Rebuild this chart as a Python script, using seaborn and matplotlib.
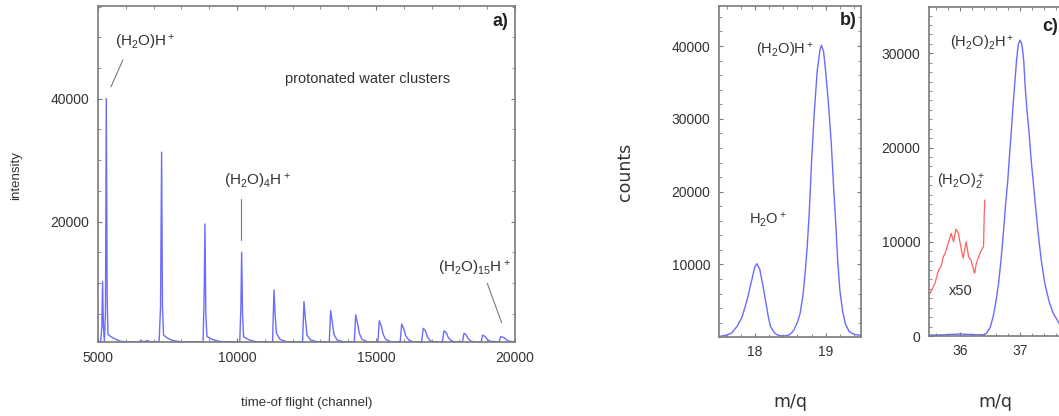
import numpy as np
import pandas as pd
import seaborn as sns
import matplotlib.pyplot as plt
from matplotlib.ticker import MultipleLocator, FixedLocator


# time-of-flight spectrum (panel a)
tof_channel = [5000, 5100, 5140, 5166, 5195, 5230, 5270, 5300, 5330, 5360, 5450, 5600, 5800, 6000,
               6500, 6550, 6600, 6800, 6850, 7200, 7250, 7290, 7320, 7360, 7500, 7700, 8000,
               8780, 8820, 8849, 8880, 8920, 9100, 9400,
               10100, 10140, 10169, 10200, 10240, 10450, 10700,
               11280, 11331, 11370, 11420, 11550, 11800,
               12360, 12410, 12460, 12520, 12650, 12900,
               13320, 13370, 13430, 13490, 13600, 13850,
               14220, 14270, 14330, 14400, 14500, 14700,
               15070, 15120, 15190, 15260, 15350, 15550,
               15870, 15925, 16000, 16070, 16180, 16350,
               16640, 16700, 16780, 16850, 16950, 17100,
               17390, 17446, 17530, 17600, 17700, 17850,
               18110, 18165, 18250, 18320, 18420, 18550,
               18780, 18840, 18930, 19000, 19100,
               19420, 19490, 19600, 19700, 19800, 20000]
tof_intensity = [400, 400, 3000, 10200, 3000, 600, 5000, 40000, 8000, 1600, 1300, 900, 500, 400,
                 400, 700, 400, 600, 400, 400, 6000, 31300, 6000, 1500, 1000, 600, 400,
                 400, 8000, 19600, 5000, 1300, 800, 450,
                 400, 6000, 15000, 5000, 1200, 700, 400,
                 400, 8850, 5000, 1800, 800, 400,
                 400, 6950, 4200, 1500, 700, 400,
                 400, 5500, 3500, 1600, 700, 400,
                 400, 4800, 3600, 1800, 800, 400,
                 400, 3850, 3000, 1600, 800, 400,
                 400, 3300, 2500, 1400, 700, 400,
                 400, 2600, 2200, 1200, 600, 400,
                 400, 2200, 1900, 1100, 600, 400,
                 400, 1800, 1500, 900, 500, 400,
                 400, 1500, 1250, 800, 500,
                 400, 1250, 1100, 700, 500, 400]

# mass spectrum around m/q 18-19 (panel b)
mq_b = [17.50, 17.60, 17.67, 17.75, 17.82, 17.89, 17.95, 18.00, 18.03, 18.07, 18.11, 18.15,
        18.19, 18.22, 18.27, 18.31, 18.36, 18.42, 18.48, 18.52, 18.55, 18.60, 18.64, 18.68,
        18.71, 18.74, 18.77, 18.80, 18.84, 18.88, 18.92, 18.94, 18.97, 19.00, 19.04, 19.08,
        19.11, 19.14, 19.17, 19.20, 19.24, 19.28, 19.33, 19.40, 19.50]
counts_b = [100, 300, 550, 1500, 2800, 5100, 7600, 9700, 10100, 9300, 7300, 5100,
            2800, 1500, 700, 350, 200, 180, 300, 600, 1000, 2000, 3300, 5800,
            8800, 12500, 17500, 24000, 31000, 36500, 39500, 40100, 39300, 36500, 32000, 26500,
            21000, 16000, 10500, 6500, 3500, 1800, 800, 400, 250]

# mass spectrum around m/q 36-37 (panel c)
mq_c = [35.50, 35.70, 35.90, 36.00, 36.10, 36.30, 36.40, 36.44, 36.50, 36.55, 36.60, 36.64,
        36.68, 36.72, 36.76, 36.79, 36.82, 36.85, 36.88, 36.91, 36.94, 36.97, 37.00, 37.03,
        37.06, 37.08, 37.11, 37.15, 37.18, 37.22, 37.26, 37.30, 37.35, 37.41, 37.48, 37.55,
        37.65, 37.75, 37.90, 38.10, 38.50]
counts_c = [100, 120, 180, 220, 180, 120, 150, 300, 900, 2050, 3800, 5600,
            8000, 10900, 14200, 16200, 19000, 21500, 24300, 26800, 29300, 31000, 31400, 30900,
            29200, 26800, 24200, 21500, 18900, 16200, 13500, 10900, 8100, 5600, 3700, 2400,
            1350, 700, 300, 150, 100]

# dimer cation trace, scaled x50 (panel c)
mq_x50 = [35.50, 35.58, 35.64, 35.68, 35.72, 35.75, 35.80, 35.85, 35.89, 35.93, 35.97, 36.01,
          36.05, 36.10, 36.14, 36.18, 36.24, 36.27, 36.33, 36.37, 36.39, 36.40, 36.41]
counts_x50 = [4530, 5590, 7000, 7360, 8420, 8770, 9840, 10900, 10010, 11330, 10900, 9480,
              8250, 10010, 8420, 8070, 6660, 7720, 8780, 9310, 9480, 12660, 14440]

blue = '#6b6bff'
red = '#ff6060'
grey = '#7a7a7a'
txt = '#333333'

sns.set_style('ticks')
plt.rcParams['font.family'] = ['Liberation Sans', 'DejaVu Sans']
plt.rcParams['mathtext.default'] = 'regular'

fig = plt.figure(figsize=(10.59, 4.16), dpi=100)
ax_a = fig.add_axes([0.0925, 0.1772, 0.3938, 0.8084])
ax_b = fig.add_axes([0.6787, 0.1906, 0.1344, 0.7950])
ax_c = fig.add_axes([0.8772, 0.1923, 0.1700, 0.7916])

sns.lineplot(x=tof_channel, y=tof_intensity, ax=ax_a, color=blue, linewidth=1.0, estimator=None)
sns.lineplot(x=mq_b, y=counts_b, ax=ax_b, color=blue, linewidth=1.0, estimator=None)
sns.lineplot(x=mq_c, y=counts_c, ax=ax_c, color=blue, linewidth=1.0, estimator=None)
sns.lineplot(x=mq_x50, y=counts_x50, ax=ax_c, color=red, linewidth=0.9, estimator=None)

ax_a.set_xlim(5000, 20000)
ax_a.set_ylim(330, 55100)
ax_a.xaxis.set_major_locator(FixedLocator([5000, 10000, 15000, 20000]))
ax_a.xaxis.set_minor_locator(MultipleLocator(1000))
ax_a.yaxis.set_major_locator(FixedLocator([20000, 40000]))
ax_a.yaxis.set_minor_locator(MultipleLocator(5000))

ax_b.set_xlim(17.49, 19.5)
ax_b.set_ylim(70, 45500)
ax_b.xaxis.set_major_locator(FixedLocator([18, 19]))
ax_b.xaxis.set_minor_locator(MultipleLocator(0.2))
ax_b.yaxis.set_major_locator(FixedLocator([10000, 20000, 30000, 40000]))
ax_b.yaxis.set_minor_locator(MultipleLocator(2000))

# panel c runs past the right edge of the figure, as in the original crop
ax_c.set_xlim(35.48, 38.48)
ax_c.set_ylim(0, 34950)
ax_c.xaxis.set_major_locator(FixedLocator([36, 37]))
ax_c.xaxis.set_minor_locator(MultipleLocator(0.2))
ax_c.yaxis.set_major_locator(FixedLocator([0, 10000, 20000, 30000]))
ax_c.yaxis.set_minor_locator(MultipleLocator(1000))

for ax in (ax_a, ax_b, ax_c):
    for sp in ax.spines.values():
        sp.set_visible(True)
        sp.set_color(grey)
        sp.set_linewidth(1.2)
    ax.tick_params(which='both', direction='in', top=True, right=True, color=grey,
                   labelsize=10, labelcolor=txt, pad=6)
    ax.tick_params(which='major', length=3, width=0.8)
    ax.tick_params(which='minor', length=2, width=0.6)
    ax.set_xlabel('')
    ax.set_ylabel('')

# panel a annotations
ax_a.text(6690, 49100, '(H$_2$O)H$^+$', ha='center', va='center', fontsize=11, color=txt)
ax_a.plot([5899, 5468], [46340, 41940], color=grey, linewidth=0.8)
ax_a.text(10720, 26500, '(H$_2$O)$_4$H$^+$', ha='center', va='center', fontsize=11, color=txt)
ax_a.plot([10133, 10133], [23630, 17000], color=grey, linewidth=0.8)
ax_a.text(18525, 12390, '(H$_2$O)$_{15}$H$^+$', ha='center', va='center', fontsize=11, color=txt)
ax_a.plot([19003, 19520], [9940, 3520], color=grey, linewidth=0.8)
ax_a.text(14712, 43240, 'protonated water clusters', ha='center', va='center', fontsize=10.5, color=txt)
ax_a.text(0.985, 0.955, 'a)', transform=ax_a.transAxes, ha='right', va='center',
          fontsize=13, fontweight='bold', color='#222222')

# panel b annotations
ax_b.text(18.43, 39400, '(H$_2$O)H$^+$', ha='center', va='center', fontsize=10.5, color=txt)
ax_b.text(18.18, 16080, 'H$_2$O$^+$', ha='center', va='center', fontsize=10.5, color=txt)
ax_b.text(0.97, 0.955, 'b)', transform=ax_b.transAxes, ha='right', va='center',
          fontsize=13, fontweight='bold', color='#222222')

# panel c annotations
ax_c.text(36.36, 31070, '(H$_2$O)$_2$H$^+$', ha='center', va='center', fontsize=10.5, color=txt)
ax_c.text(36.01, 16380, '(H$_2$O)$_2^+$', ha='center', va='center', fontsize=10.5, color=txt)
ax_c.text(36.01, 4810, 'x50', ha='center', va='center', fontsize=10.5, color=txt)
ax_c.text(37.64, 32900, 'c)', ha='right', va='center', fontsize=13, fontweight='bold', color='#222222')

# axis titles placed like the original figure
fig.text(0.0151, 0.579, 'intensity', rotation=90, ha='center', va='center', fontsize=9.5, color=txt)
fig.text(0.290, 0.031, 'time-of flight (channel)', ha='center', va='center', fontsize=9.5, color=txt)
fig.text(0.590, 0.587, 'counts', rotation=90, ha='center', va='center', fontsize=12.5,
         color=txt, family='DejaVu Sans')
fig.text(0.746, 0.034, 'm/q', ha='center', va='center', fontsize=12.5, color=txt, family='DejaVu Sans')
fig.text(0.940, 0.034, 'm/q', ha='center', va='center', fontsize=12.5, color=txt, family='DejaVu Sans')

fig.savefig('out.png', dpi=100)
plt.close(fig)
